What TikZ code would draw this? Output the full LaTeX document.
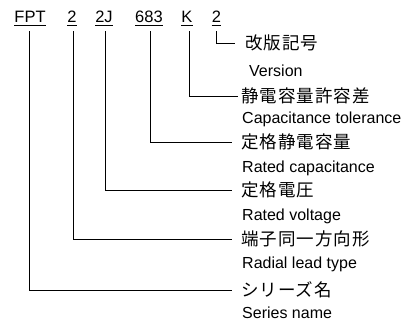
\documentclass[tikz,border=0pt]{standalone}
\usepackage{fontspec}
\setmainfont{Liberation Sans}
\newfontfamily\jp[LetterSpace=6]{Noto Sans CJK JP}
\begin{document}
\begin{tikzpicture}[x=1pt,y=-1pt,
  code/.style={inner sep=0pt, anchor=base, font=\fontsize{16.5}{18}\selectfont},
  jlab/.style={inner sep=0pt, anchor=west, font=\jp\fontsize{17.5}{19}\selectfont},
  elab/.style={inner sep=0pt, anchor=base west, font=\fontsize{16}{18}\selectfont},
  lead/.style={line width=0.8pt}]
\useasboundingbox (0,0) rectangle (415,321);
% codes
\node[code] (c1) at (30,22.5) {FPT};
\node[code] (c2) at (72,22.5) {2};
\node[code] (c3) at (104,22.5) {2J};
\node[code] (c4) at (149,22.5) {683};
\node[code] (c5) at (187,22.5) {K};
\node[code] (c6) at (216.5,22.5) {2};
\foreach \n in {c1,c2,c3,c4,c5,c6}
  \draw[lead] ([yshift=-3pt]\n.base west) -- ([yshift=-3pt]\n.base east);
% labels
\node[jlab] (j6) at (245,43) {改版記号};
\node[elab] (e6) at (249,77) {Version};
\node[jlab] (j5) at (241,96) {静電容量許容差};
\node[elab] (e5) at (242,123) {Capacitance tolerance};
\node[jlab] (j4) at (241,142) {定格静電容量};
\node[elab] (e4) at (242,172) {Rated capacitance};
\node[jlab] (j3) at (241,190) {定格電圧};
\node[elab] (e3) at (242,220) {Rated voltage};
\node[jlab] (j2) at (241,239) {端子同一方向形};
\node[elab] (e2) at (242,268) {Radial lead type};
\node[jlab] (j1) at (241,290) {シリーズ名};
\node[elab] (e1) at (242,318) {Series name};
% connectors
\draw[lead] ([yshift=-9pt]c6.base) |- ([xshift=-10pt]j6.west);
\draw[lead] ([xshift=2.5pt,yshift=-9pt]c5.base) |- ([xshift=-3pt]j5.west);
\draw[lead] ([xshift=1pt,yshift=-9pt]c4.base) |- ([xshift=-9pt]j4.west);
\draw[lead] ([xshift=1pt,yshift=-9pt]c3.base) |- ([xshift=-9pt]j3.west);
\draw[lead] ([xshift=1pt,yshift=-9pt]c2.base) |- ([xshift=-9pt]j2.west);
\draw[lead] ([xshift=-1pt,yshift=-9pt]c1.base) |- ([xshift=-9pt]j1.west);
\end{tikzpicture}
\end{document}
